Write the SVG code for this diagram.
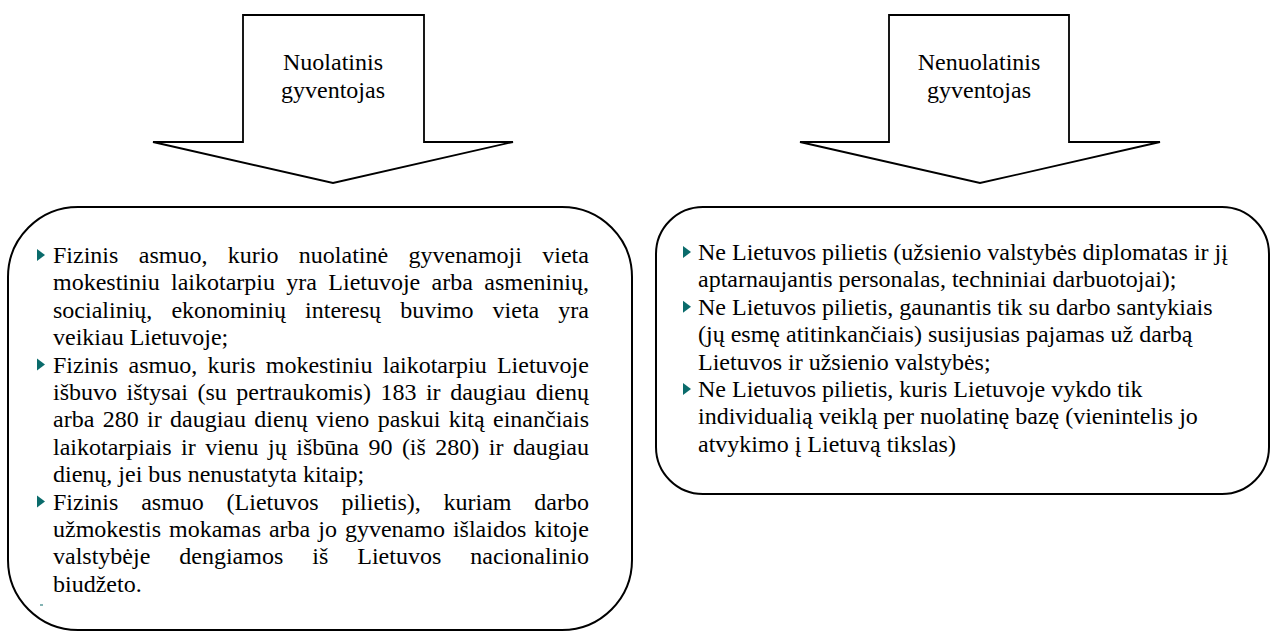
<svg xmlns="http://www.w3.org/2000/svg" width="1271" height="632" viewBox="0 0 1271 632">
<style>
.shape{fill:#fff;stroke:#000;stroke-width:1.8;stroke-linejoin:miter}
.box{fill:#fff;stroke:#000;stroke-width:2}
.t{font-family:"Liberation Serif","Times New Roman",serif;font-size:24px;fill:#000}
.h{font-family:"Liberation Serif","Times New Roman",serif;font-size:24px;fill:#000;text-anchor:middle}
.b{fill:#0a6b6b}
</style>
<defs>
<path id="bul" d="M0,-14 L0,-2 L8,-8 Z"/>
</defs>
<rect width="1271" height="632" fill="#fff"/>
<g id="connectors"></g>
<g id="arrow-nuolatinis">
<path class="shape" d="M243,15 L424,15 L424,142 L513,142 L333,183 L153,142 L243,142 Z"/>
<text class="h" x="333" y="70">Nuolatinis</text>
<text class="h" x="333" y="97.5">gyventojas</text>
</g>
<g id="arrow-nenuolatinis">
<path class="shape" d="M889,15 L1069,15 L1069,142 L1160,142 L980,183 L800,142 L889,142 Z"/>
<text class="h" x="979" y="70">Nenuolatinis</text>
<text class="h" x="979" y="97.5">gyventojas</text>
</g>
<g id="box-nuolatinis">
<rect class="box" x="8" y="207" width="624" height="423" rx="70" ry="70"/>
<use href="#bul" class="b" x="37" y="263"/>
<use href="#bul" class="b" x="37" y="372.6"/>
<use href="#bul" class="b" x="37" y="509.6"/>
<rect class="b" x="40" y="604.5" width="3" height="1"/>
<text class="t" x="53" y="263" style="word-spacing:14.4px">Fizinis asmuo, kurio nuolatinė gyvenamoji vieta</text>
<text class="t" x="53" y="290.4" style="word-spacing:5.34px">mokestiniu laikotarpiu yra Lietuvoje arba asmeninių,</text>
<text class="t" x="53" y="317.8" style="word-spacing:13.07px">socialinių, ekonominių interesų buvimo vieta yra</text>
<text class="t" x="53" y="345.2">veikiau Lietuvoje;</text>
<text class="t" x="53" y="372.6" style="word-spacing:4.26px">Fizinis asmuo, kuris mokestiniu laikotarpiu Lietuvoje</text>
<text class="t" x="53" y="400" style="word-spacing:3.53px">išbuvo ištysai (su pertraukomis) 183 ir daugiau dienų</text>
<text class="t" x="53" y="427.4" style="word-spacing:2.35px">arba 280 ir daugiau dienų vieno paskui kitą einančiais</text>
<text class="t" x="53" y="454.8" style="word-spacing:3.49px">laikotarpiais ir vienu jų išbūna 90 (iš 280) ir daugiau</text>
<text class="t" x="53" y="482.2">dienų, jei bus nenustatyta kitaip;</text>
<text class="t" x="53" y="509.6" style="word-spacing:16.8px">Fizinis asmuo (Lietuvos pilietis), kuriam darbo</text>
<text class="t" x="53" y="537" style="word-spacing:2px">užmokestis mokamas arba jo gyvenamo išlaidos kitoje</text>
<text class="t" x="53" y="564.4" style="word-spacing:23px">valstybėje dengiamos iš Lietuvos nacionalinio</text>
<text class="t" x="53" y="591.8">biudžeto.</text>
</g>
<g id="box-nenuolatinis">
<rect class="box" x="656" y="207" width="613" height="287" rx="47" ry="47"/>
<use href="#bul" class="b" x="683" y="260"/>
<use href="#bul" class="b" x="683" y="314.8"/>
<use href="#bul" class="b" x="683" y="397"/>
<text class="t" x="698" y="260">Ne Lietuvos pilietis (užsienio valstybės diplomatas ir jį</text>
<text class="t" x="698" y="287.4">aptarnaujantis personalas, techniniai darbuotojai);</text>
<text class="t" x="698" y="314.8">Ne Lietuvos pilietis, gaunantis tik su darbo santykiais</text>
<text class="t" x="698" y="342.2">(jų esmę atitinkančiais) susijusias pajamas už darbą</text>
<text class="t" x="698" y="369.6">Lietuvos ir užsienio valstybės;</text>
<text class="t" x="698" y="397">Ne Lietuvos pilietis, kuris Lietuvoje vykdo tik</text>
<text class="t" x="698" y="424.4">individualią veiklą per nuolatinę bazę (vienintelis jo</text>
<text class="t" x="698" y="451.8">atvykimo į Lietuvą tikslas)</text>
</g>
</svg>
